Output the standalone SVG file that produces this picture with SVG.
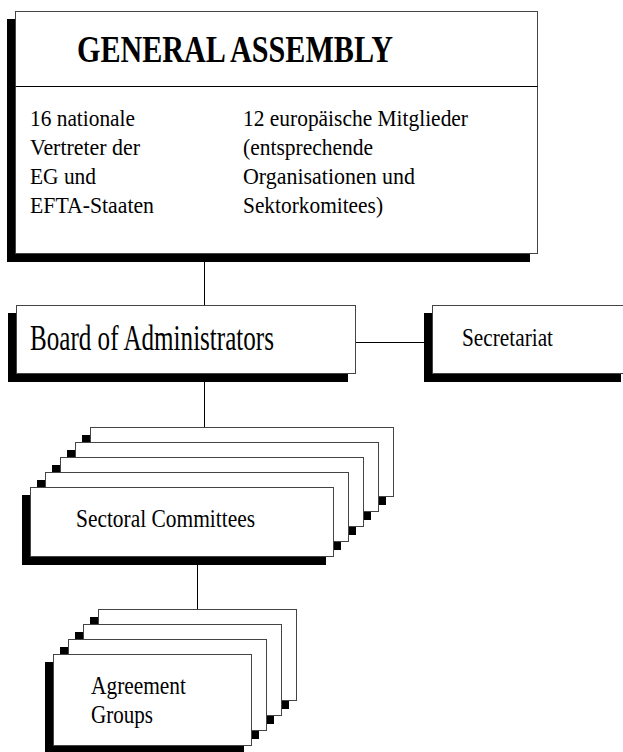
<svg xmlns="http://www.w3.org/2000/svg" width="623" height="752" viewBox="0 0 623 752">
<style>
.box{fill:#fff;stroke:#444;stroke-width:1}
.sh{fill:#000}
.ln{stroke:#000;stroke-width:1;fill:none}
text{font-family:'Liberation Serif','Times New Roman',Times,'Nimbus Roman','DejaVu Serif',serif;fill:#000}
</style>
<rect width="623" height="752" fill="#fff"/>
<g id="connectors">
<line class="ln" x1="204.5" y1="254" x2="204.5" y2="305"/>
<line class="ln" x1="356" y1="342.5" x2="424" y2="342.5"/>
<line class="ln" x1="204.5" y1="374" x2="204.5" y2="427"/>
<line class="ln" x1="197.5" y1="565" x2="197.5" y2="609"/>
</g>
<g id="general-assembly">
<rect class="sh" x="7" y="19" width="523" height="243"/>
<rect class="box" x="15.5" y="11.5" width="522" height="242"/>
<line class="ln" x1="15.5" y1="86.5" x2="537.5" y2="86.5"/>
<text font-family="Liberation Serif, serif" font-weight="bold" x="77" y="62" font-size="38" textLength="316" lengthAdjust="spacingAndGlyphs">GENERAL ASSEMBLY</text>
<text font-family="Liberation Serif, serif" font-size="23" x="30" y="126" textLength="105" lengthAdjust="spacingAndGlyphs">16 nationale</text>
<text font-family="Liberation Serif, serif" font-size="23" x="30" y="155" textLength="110" lengthAdjust="spacingAndGlyphs">Vertreter der</text>
<text font-family="Liberation Serif, serif" font-size="23" x="30" y="184" textLength="66" lengthAdjust="spacingAndGlyphs">EG und</text>
<text font-family="Liberation Serif, serif" font-size="23" x="30" y="213" textLength="124" lengthAdjust="spacingAndGlyphs">EFTA-Staaten</text>
<text font-family="Liberation Serif, serif" font-size="23" x="243" y="126" textLength="225" lengthAdjust="spacingAndGlyphs">12 europäische Mitglieder</text>
<text font-family="Liberation Serif, serif" font-size="23" x="243" y="155" textLength="130" lengthAdjust="spacingAndGlyphs">(entsprechende</text>
<text font-family="Liberation Serif, serif" font-size="23" x="243" y="184" textLength="172" lengthAdjust="spacingAndGlyphs">Organisationen und</text>
<text font-family="Liberation Serif, serif" font-size="23" x="243" y="213" textLength="140" lengthAdjust="spacingAndGlyphs">Sektorkomitees)</text>
</g>
<g id="board">
<rect class="sh" x="8" y="313" width="340" height="69"/>
<rect class="box" x="16.5" y="305.5" width="339" height="68"/>
<text font-family="Liberation Serif, serif" x="30" y="350" font-size="35" textLength="244" lengthAdjust="spacingAndGlyphs">Board of Administrators</text>
</g>
<g id="secretariat">
<rect class="sh" x="424" y="313" width="197" height="69"/>
<rect class="box" x="432.5" y="305.5" width="196" height="68"/>
<text font-family="Liberation Serif, serif" x="462" y="346" font-size="25" textLength="91" lengthAdjust="spacingAndGlyphs">Secretariat</text>
</g>
<g id="sectoral-committees">
<rect class="sh" x="82" y="435" width="304" height="70"/>
<rect class="box" x="90.5" y="427.5" width="303" height="69"/>
<rect class="sh" x="67" y="450" width="304" height="70"/>
<rect class="box" x="75.5" y="442.5" width="303" height="69"/>
<rect class="sh" x="52" y="465" width="304" height="70"/>
<rect class="box" x="60.5" y="457.5" width="303" height="69"/>
<rect class="sh" x="37" y="480" width="304" height="70"/>
<rect class="box" x="45.5" y="472.5" width="303" height="69"/>
<rect class="sh" x="22" y="495" width="304" height="70"/>
<rect class="box" x="30.5" y="487.5" width="303" height="69"/>
<text font-family="Liberation Serif, serif" x="76" y="527" font-size="25" textLength="179" lengthAdjust="spacingAndGlyphs">Sectoral Committees</text>
</g>
<g id="agreement-groups">
<rect class="sh" x="90" y="617" width="199" height="92"/>
<rect class="box" x="98.5" y="609.5" width="198" height="91"/>
<rect class="sh" x="75" y="632" width="199" height="92"/>
<rect class="box" x="83.5" y="624.5" width="198" height="91"/>
<rect class="sh" x="60" y="647" width="199" height="92"/>
<rect class="box" x="68.5" y="639.5" width="198" height="91"/>
<rect class="sh" x="45" y="662" width="199" height="92"/>
<rect class="box" x="53.5" y="654.5" width="198" height="91"/>
<text font-family="Liberation Serif, serif" x="91" y="694" font-size="25" textLength="95" lengthAdjust="spacingAndGlyphs">Agreement</text>
<text font-family="Liberation Serif, serif" x="91" y="723" font-size="25" textLength="62" lengthAdjust="spacingAndGlyphs">Groups</text>
</g>
</svg>
